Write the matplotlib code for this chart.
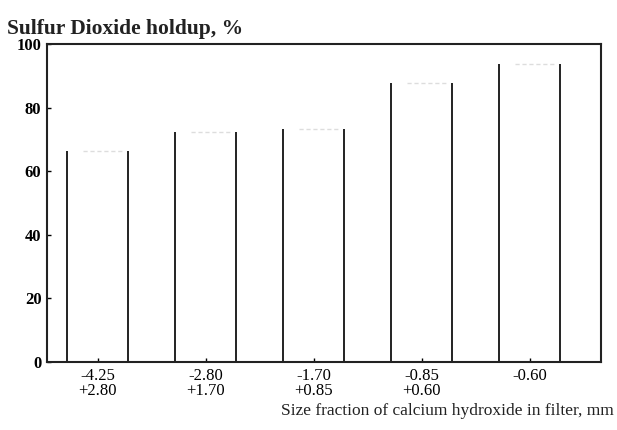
import numpy as np
import matplotlib.pyplot as plt

fractions = ["-4.25\n+2.80", "-2.80\n+1.70", "-1.70\n+0.85", "-0.85\n+0.60", "-0.60"]
holdup = [66.4, 72.3, 73.3, 87.7, 93.6]
yticks = [0, 20, 40, 60, 80, 100]

plt.rcParams['font.family'] = ['Liberation Serif', 'DejaVu Serif']


def main():
    fig = plt.figure(figsize=(6.17, 4.30), dpi=100)
    ax = fig.add_axes([0.0762, 0.158, 0.898, 0.740])

    x = np.arange(len(holdup))
    w = 0.565
    ax.bar(x, holdup, width=w, color='white', edgecolor='none')
    # only the sides of the bars are dark in the scan, the tops are faint
    ax.vlines(x - w / 2, 0, holdup, color='#222222', lw=1.4)
    ax.vlines(x + w / 2, 0, holdup, color='#222222', lw=1.4)
    ax.hlines(holdup, x - w / 2 + 0.15, x + w / 2 - 0.05, color='#dddddd', lw=1, linestyles=(0, (3, 2)))

    ax.set_xlim(-0.47, 4.66)
    ax.set_ylim(0, 100)
    ax.set_xticks(x)
    ax.set_xticklabels(fractions, fontsize=12, linespacing=0.95)
    ax.set_yticks(yticks)
    ax.set_yticklabels([str(v) for v in yticks], fontsize=12, fontweight='bold')
    ax.tick_params(direction='in', length=3, width=1, pad=4)
    for s in ax.spines.values():
        s.set_linewidth(1.5)
        s.set_color('#222222')

    fig.text(0.012, 0.932, "Sulfur Dioxide holdup, %", fontsize=15.5, fontweight='bold',
             ha='left', va='center', color='#222222')
    fig.text(0.994, 0.045, "Size fraction of calcium hydroxide in filter, mm", fontsize=12.5,
             ha='right', va='center', color='#222222')

    fig.savefig("out.png", dpi=100)


if __name__ == "__main__":
    main()
